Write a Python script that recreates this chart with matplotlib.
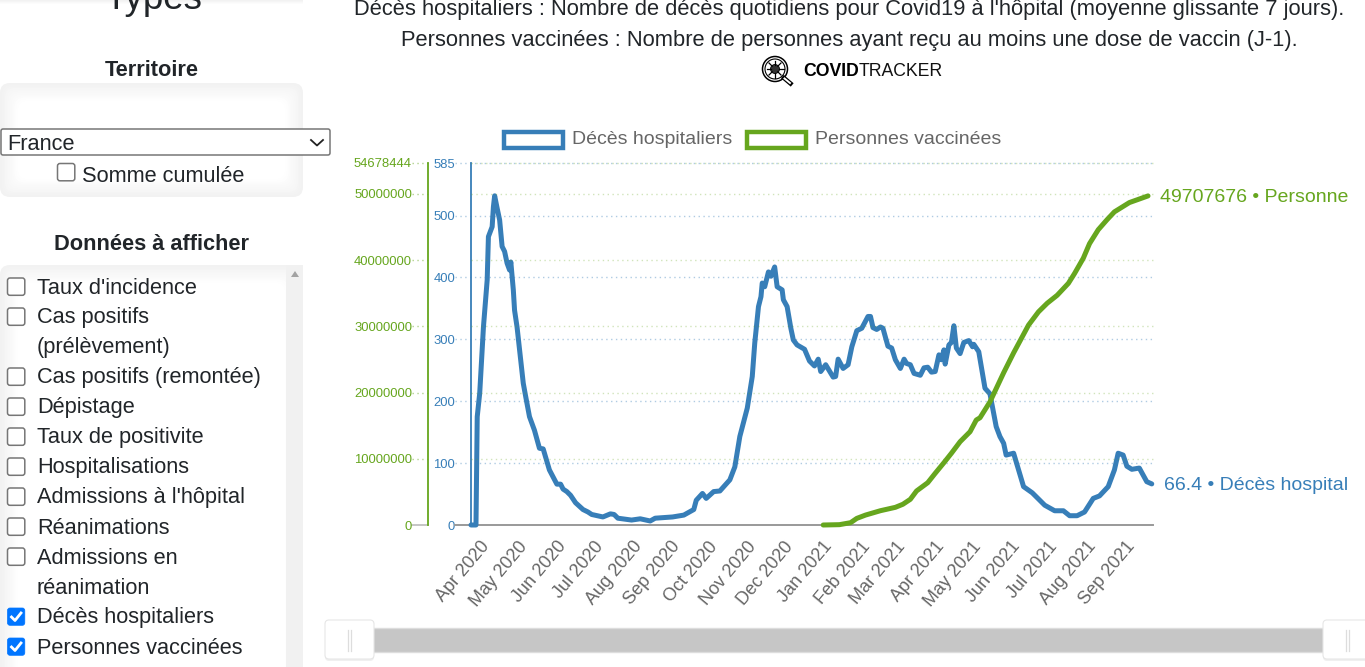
import numpy as np
import matplotlib
matplotlib.use('Agg')
import matplotlib.pyplot as plt
import matplotlib.dates as mdates
import matplotlib.ticker as mticker
from matplotlib.patches import FancyBboxPatch, Rectangle, Circle, Polygon
from matplotlib.transforms import Bbox, TransformedBbox, ScaledTranslation

plt.rcParams['font.family'] = ['Liberation Sans', 'DejaVu Sans']

# donnees (jours depuis le 18 mars 2020)
start = np.datetime64('2020-03-18')
jours_deces = [0, 4, 5, 7, 10, 13, 14, 17, 18, 19, 21, 23, 25, 27, 29, 31, 32, 34, 35, 37, 39, 42, 44, 47, 51, 55, 58, 63, 69, 72, 74, 77, 80, 84, 90, 94, 97, 106, 112, 115, 118, 129, 136, 144, 148, 162, 171, 179, 181, 186, 189, 195, 200, 208, 212, 216, 222, 226, 228, 231, 233, 234, 236, 239, 241, 244, 246, 250, 251, 254, 257, 259, 262, 268, 272, 276, 279, 281, 285, 291, 293, 295, 299, 303, 306, 310, 314, 319, 321, 323, 326, 329, 331, 335, 338, 341, 345, 348, 350, 353, 356, 361, 364, 367, 370, 373, 376, 378, 380, 381, 384, 386, 388, 390, 393, 396, 400, 403, 404, 408, 413, 417, 422, 425, 428, 430, 436, 440, 444, 451, 461, 469, 476, 481, 487, 493, 500, 505, 512, 517, 520, 524, 527, 531, 537, 543, 547]
deces = [0, 0, 175, 213, 320, 396, 466, 482, 514, 532, 512, 493, 450, 442, 423, 412, 425, 380, 347, 320, 283, 229, 207, 175, 153, 124, 123, 89, 66, 66, 58, 54, 48, 36, 25, 21, 17, 13, 18, 17, 11, 8, 10, 6.5, 11, 13, 16, 25, 40, 51, 43, 54, 55, 73, 94, 143, 189, 240, 294, 353, 369, 391, 385, 409, 402, 417, 385, 380, 364, 353, 318, 299, 291, 284, 265, 257, 268, 248, 259, 239, 240, 268, 253, 259, 288, 314, 318, 337, 337, 319, 316, 320, 318, 289, 286, 267, 253, 268, 261, 259, 245, 242, 254, 255, 247, 248, 275, 267, 283, 260, 291, 295, 322, 286, 277, 295, 298, 288, 292, 280, 221, 212, 159, 143, 132, 113, 116, 89, 62, 52, 32, 23, 23, 15, 15, 21, 43, 47, 62, 89, 116, 113, 95, 90, 92, 70, 66.4]
jours_vacc = [283, 296, 305, 310, 317, 329, 341, 347, 353, 358, 367, 373, 380, 386, 393, 401, 406, 409, 417, 428, 436, 448, 456, 463, 471, 480, 485, 492, 497, 504, 511, 517, 529, 544]
vaccines = [0, 50000, 350000, 1000000, 1500000, 2160000, 2670000, 3130000, 3880000, 5140000, 6390000, 7810000, 9410000, 10830000, 12580000, 14090000, 15860000, 16200000, 18600000, 23000000, 26000000, 30200000, 32200000, 33500000, 34700000, 36500000, 38000000, 40300000, 42500000, 44600000, 46100000, 47300000, 48700000, 49707676]

ticks_deces = [0, 100, 200, 300, 400, 500, 585]
ticks_vacc = [0, 10000000, 20000000, 30000000, 40000000, 50000000, 54678444]
mois = ['2020-04', '2020-05', '2020-06', '2020-07', '2020-08', '2020-09', '2020-10', '2020-11', '2020-12',
        '2021-01', '2021-02', '2021-03', '2021-04', '2021-05', '2021-06', '2021-07', '2021-08', '2021-09']
donnees_liste = ["Taux d'incidence", 'Cas positifs', '(prélèvement)', 'Cas positifs (remontée)', 'Dépistage',
                 'Taux de positivite', 'Hospitalisations', "Admissions à l'hôpital", 'Réanimations',
                 'Admissions en', 'réanimation', 'Décès hospitaliers', 'Personnes vaccinées']
coches = [False, False, None, False, False, False, False, False, False, False, None, True, True]

BLEU = '#377eb8'
VERT = '#66a61e'
TEXTE = '#212529'
W, H = 1365, 667

fig = plt.figure(figsize=(W / 100, H / 100), dpi=100, facecolor='white')

# calque en pixels pour l'interface de la page
ui = fig.add_axes([0, 0, 1, 1], zorder=0)
ui.set_xlim(0, W)
ui.set_ylim(H, 0)
ui.axis('off')


def panneau(x0, y0, x1, y1):
    # fond gris avec ombre interieure
    n = 12
    for i in range(n):
        g = 0.945 + (1 - 0.945) * (i + 1) / n
        m = i * 1.6
        ui.add_patch(FancyBboxPatch((x0 + m + 8, y0 + m + 8), x1 - x0 - 2 * m - 16, y1 - y0 - 2 * m - 16,
                                    boxstyle='round,pad=8,rounding_size=10', fc=(g, g, g), ec='none', zorder=1))


def case(x, y, coche):
    if coche:
        ui.add_patch(FancyBboxPatch((x + 2, y + 2), 14.3, 14.3, boxstyle='round,pad=1.5,rounding_size=2.5',
                                    fc='#0075ff', ec='#0075ff', lw=0.5, zorder=3))
        ui.plot([x + 4.5, x + 8, x + 14], [y + 9.5, y + 13, y + 5.5], color='white', lw=2, zorder=4)
    else:
        ui.add_patch(FancyBboxPatch((x + 2, y + 2), 14.3, 14.3, boxstyle='round,pad=1.5,rounding_size=2.5',
                                    fc='white', ec='#767676', lw=1.1, zorder=3))


# en-tete
for i in range(4):
    g = 0.95 + 0.0125 * i
    ui.add_patch(Rectangle((0, i), 303, 1, fc=(g, g, g), ec='none', zorder=1))
ui.text(153.5, 9, 'Types', fontsize=26.5, color=TEXTE, ha='center', va='baseline', zorder=5)
txt_haut = ["Décès hospitaliers : Nombre de décès quotidiens pour Covid19 à l'hôpital (moyenne glissante 7 jours).",
            'Personnes vaccinées : Nombre de personnes ayant reçu au moins une dose de vaccin (J-1).']
ui.text(849, 9.5, txt_haut[0], fontsize=15.75, color=TEXTE, ha='center', va='center')
ui.text(849, 40.5, txt_haut[1], fontsize=15.75, color=TEXTE, ha='center', va='center')

# logo
ui.add_patch(Circle((775, 69), 12.5, fc='none', ec='black', lw=1.1))
ui.add_patch(Circle((775, 69), 10, fc='none', ec='black', lw=0.8))
ui.add_patch(Circle((775, 69), 4.5, fc='#333333', ec='black', lw=0.6))
for a in np.arange(0, 2 * np.pi, np.pi / 4):
    ui.plot([775 + 4 * np.cos(a), 775 + 8.5 * np.cos(a)], [69 + 4 * np.sin(a), 69 + 8.5 * np.sin(a)], color='black', lw=0.9)
ui.plot([784, 790.5], [78, 83.5], color='black', lw=3.2)
ui.plot([784.5, 790], [78.5, 83], color='white', lw=1.4)
ui.text(803, 71, 'COVID', fontsize=12.7, fontweight='bold', color='black', ha='left', va='center')
ui.text(858.5, 71, 'TRACKER', fontsize=12.7, color='#111111', ha='left', va='center')

# territoire
ui.text(151.5, 70, 'Territoire', fontsize=15.7, fontweight='bold', color=TEXTE, ha='center', va='center')
panneau(0, 83, 303, 197)
ui.add_patch(FancyBboxPatch((1, 129), 329, 26, boxstyle='round,pad=0,rounding_size=2', fc='white', ec='#767676', lw=1.1, zorder=3))
ui.text(7, 144, 'France', fontsize=15.7, color=TEXTE, ha='left', va='center', zorder=4)
ui.plot([311, 317, 323], [140, 145.5, 140], color='#222222', lw=1.3, zorder=4)
case(57, 163, False)
ui.text(82, 176, 'Somme cumulée', fontsize=15.7, color=TEXTE, ha='left', va='center', zorder=4)

# donnees a afficher
ui.text(151.5, 244, 'Données à afficher', fontsize=15.7, fontweight='bold', color=TEXTE, ha='center', va='center')
panneau(0, 265, 303, 700)
ui.add_patch(Rectangle((286, 265), 17, 402, fc='#f1f1f1', ec='none', zorder=2))
ui.add_patch(Polygon([[291, 277], [299, 277], [295, 271]], fc='#a3a3a3', ec='none', zorder=3))
for i, (nom, etat) in enumerate(zip(donnees_liste, coches)):
    y = 287 + 30 * i
    if etat is not None:
        case(7, y - 9.5, etat)
    ui.text(37, y + 1, nom, fontsize=15.7, color=TEXTE, ha='left', va='center', zorder=4)

# legende
ui.add_patch(Rectangle((504, 132), 59, 16, fc='white', ec=BLEU, lw=3.2))
ui.text(572, 140, 'Décès hospitaliers', fontsize=14, color='#666666', ha='left', va='center')
ui.add_patch(Rectangle((747, 132), 59, 16, fc='white', ec=VERT, lw=3.2))
ui.text(815, 140, 'Personnes vaccinées', fontsize=14, color='#666666', ha='left', va='center')

# curseur de zoom
ui.add_patch(Rectangle((340, 628), 1000, 24, fc='#c6c6c6', ec='#dddddd', lw=1, zorder=2))
for x0, x1 in [(325, 374), (1323, 1400)]:
    for d, g in [(2, '#f0f0f0'), (0, 'white')]:
        ui.add_patch(FancyBboxPatch((x0, 620 + d), x1 - x0, 39, boxstyle='round,pad=0,rounding_size=4',
                                    fc=g, ec='#e6e6e6' if d == 0 else 'none', lw=0.8, zorder=3))
    ui.plot([x0 + 23, x0 + 23], [630, 651], color='#dddddd', lw=0.9, zorder=4)
    ui.plot([x0 + 26, x0 + 26], [630, 651], color='#dddddd', lw=0.9, zorder=4)

# graphique
x_l, x_r, y_t, y_b = 471, 1153, 163, 525
rect = [x_l / W, 1 - y_b / H, (x_r - x_l) / W, (y_b - y_t) / H]
ax = fig.add_axes(rect, zorder=2)
ax2 = ax.twinx()
ax.patch.set_alpha(0)
ax2.patch.set_alpha(0)

dates_deces = start + np.array(jours_deces).astype('timedelta64[D]')
dates_vacc = start + np.array(jours_vacc).astype('timedelta64[D]')
fin = start + np.timedelta64(548, 'D')

ax.set_xlim(start, fin)
ax.set_ylim(0, 585)
ax2.set_ylim(0, 54678444)

ax.plot(dates_deces, deces, color=BLEU, lw=3.6, solid_capstyle='round', solid_joinstyle='round', clip_on=False, zorder=5)
ax2.plot(dates_vacc, vaccines, color=VERT, lw=3.6, solid_capstyle='round', solid_joinstyle='round', clip_on=False, zorder=4)

ax.set_xticks(np.array(mois, dtype='datetime64[D]'))
ax.xaxis.set_major_formatter(mdates.DateFormatter('%b %Y'))
ax.tick_params(axis='x', length=0, pad=9.5, labelcolor='#666666', labelsize=13)
decal = ScaledTranslation(-8 / 100, 0, fig.dpi_scale_trans)
for lab in ax.get_xticklabels():
    lab.set_rotation(50)
    lab.set_ha('right')
    lab.set_va('top')
    lab.set_rotation_mode('anchor')
    lab.set_transform(lab.get_transform() + decal)

# axes et graduations : traits pointilles qui debordent a gauche
for s in ax.spines.values():
    s.set_visible(False)
for s in ax2.spines.values():
    s.set_visible(False)
ax.spines['left'].set_visible(True)
ax.spines['left'].set_color(BLEU)
ax.spines['left'].set_linewidth(1.3)
ax2.yaxis.tick_left()
ax2.spines['left'].set_visible(True)
ax2.spines['left'].set_position(('outward', 43 * 0.72))
ax2.spines['left'].set_color(VERT)
ax2.spines['left'].set_linewidth(1.3)

ax.set_yticks(ticks_deces)
ax.tick_params(axis='y', length=0, pad=11.5, labelcolor=BLEU, labelsize=9.4)
ax2.set_yticks(ticks_vacc)
ax2.tick_params(axis='y', length=0, pad=11.5, labelcolor=VERT, labelsize=9.4)
ax2.yaxis.set_major_formatter(mticker.FormatStrFormatter('%d'))

larg = x_r - x_l
for v in ticks_deces[1:]:
    ax.plot([-16 / larg, 1], [v, v], transform=ax.get_yaxis_transform(), color=BLEU, alpha=0.4, lw=1,
            ls=(0, (1, 2.5)), clip_on=False, zorder=1)
for v in ticks_vacc[1:]:
    ax2.plot([-59 / larg, -43 / larg], [v, v], transform=ax2.get_yaxis_transform(), color=VERT, alpha=0.5, lw=1,
             ls=(0, (1, 2.5)), clip_on=False, zorder=1)
    ax2.plot([0, 1], [v, v], transform=ax2.get_yaxis_transform(), color=VERT, alpha=0.3, lw=1,
             ls=(0, (1, 2.5)), clip_on=False, zorder=1)
# ligne du zero
ax.plot([-16 / larg, 1], [0, 0], transform=ax.get_yaxis_transform(), color='#999999', lw=1.4, clip_on=False, zorder=2)
ax.plot([-59 / larg, -43 / larg], [0, 0], transform=ax.get_yaxis_transform(), color='#bbbbbb', lw=1.2, clip_on=False, zorder=2)

# etiquettes de fin de courbe, coupees au bord du graphique
boite = TransformedBbox(Bbox([[0, 0], [1349 / W, 1]]), fig.transFigure)
t1 = ax2.annotate('%d • Personnes vaccinées' % vaccines[-1], xy=(dates_vacc[-1], vaccines[-1]), xytext=(8.5, -1),
                  textcoords='offset points', color=VERT, fontsize=14, va='center', ha='left', annotation_clip=False)
t2 = ax.annotate('%.1f • Décès hospitaliers' % deces[-1], xy=(dates_deces[-1], deces[-1]), xytext=(9, -1),
                 textcoords='offset points', color=BLEU, fontsize=14, va='center', ha='left', annotation_clip=False)
for t in (t1, t2):
    t.set_clip_on(True)
    t.set_clip_box(boite)

fig.savefig('out.png', dpi=100)
